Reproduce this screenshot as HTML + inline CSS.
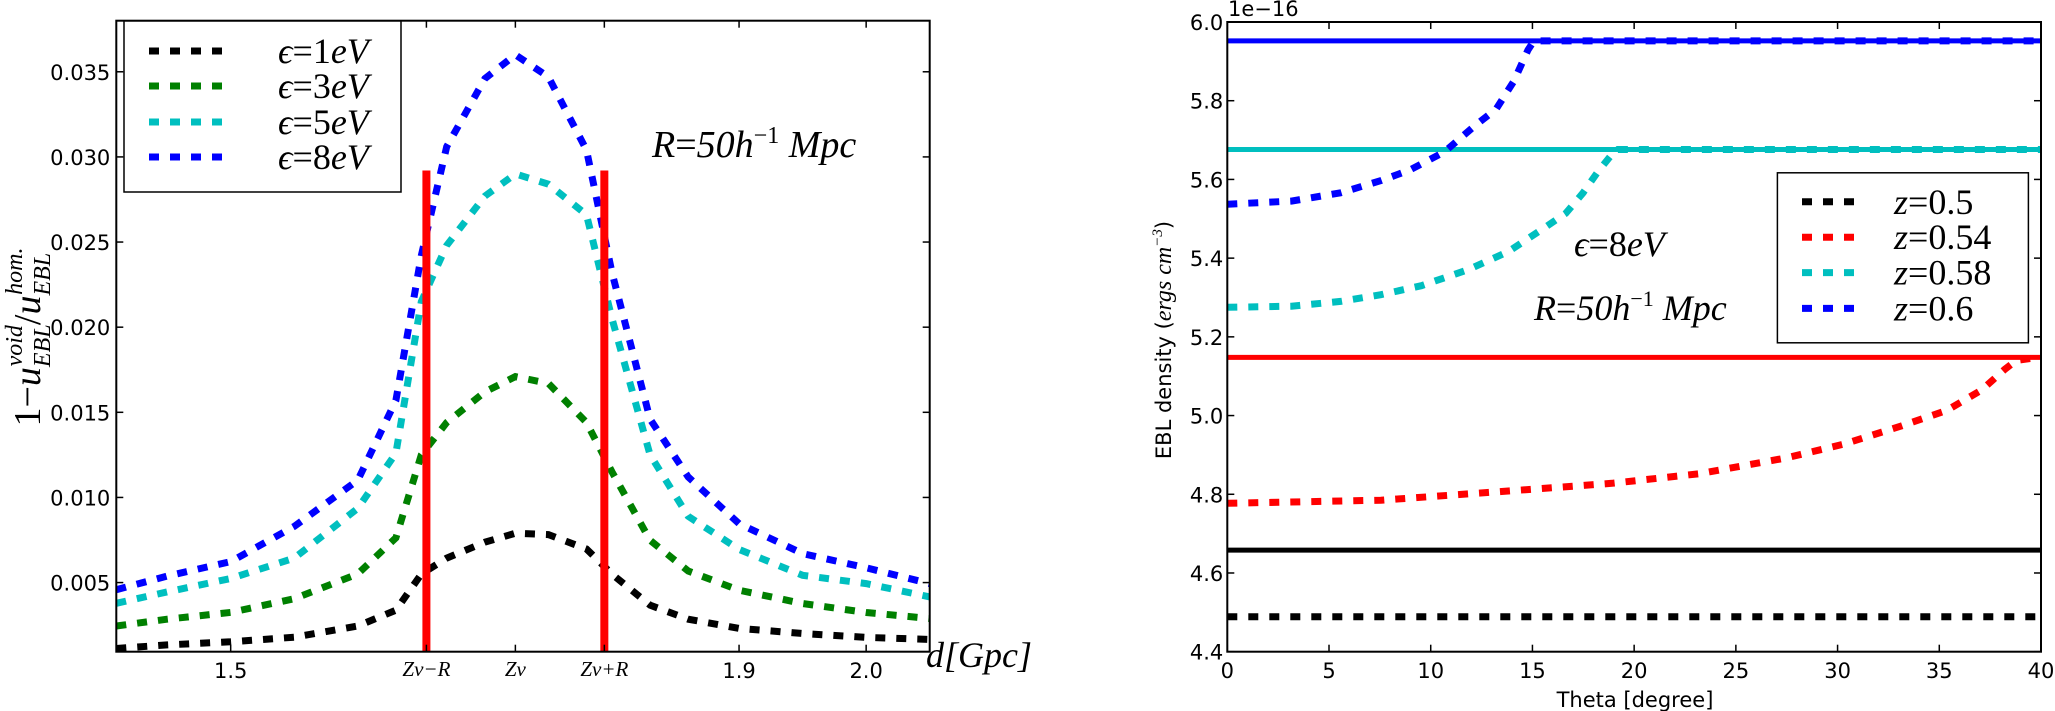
<!DOCTYPE html>
<html><head><meta charset="utf-8">
<style>
html,body{margin:0;padding:0;background:#fff;}
svg{display:block;}
.tk{font-family:"DejaVu Sans","Liberation Sans",sans-serif;font-size:21px;fill:#000;}
.mt{font-family:"Liberation Serif","DejaVu Serif",serif;font-style:italic;fill:#000;}
</style></head>
<body>
<svg id="fig" width="2055" height="711" viewBox="0 0 2055 711" xmlns="http://www.w3.org/2000/svg"></svg>
<script>
// ---------- LEFT CHART DATA ----------
const dValues = [1.41,1.45,1.5,1.55,1.6,1.63,1.65,1.67,1.7,1.724,1.75,1.78,1.8,1.83,1.86,1.9,1.95,2.0,2.05];
const eps1 = [0.00113,0.00134,0.00152,0.00179,0.00245,0.00338,0.0055,0.00644,0.00737,0.0079,0.00782,0.00697,0.0055,0.00367,0.00285,0.00231,0.00201,0.00178,0.00166];
const eps3 = [0.00245,0.00285,0.00325,0.00405,0.00551,0.00763,0.0125,0.0144,0.0162,0.0171,0.0167,0.0144,0.0115,0.00748,0.00568,0.00455,0.00377,0.00324,0.00289];
const eps5 = [0.00378,0.00445,0.00524,0.00644,0.00936,0.0126,0.0215,0.0248,0.0277,0.029,0.0284,0.0266,0.0205,0.0125,0.00889,0.00695,0.00543,0.00494,0.00416];
const eps8 = [0.00458,0.00538,0.00623,0.0083,0.01101,0.0157,0.0242,0.0306,0.0346,0.036,0.0347,0.0304,0.0232,0.0146,0.0112,0.00846,0.0067,0.00587,0.00494];
const leftSeriesLabels = ["1eV","3eV","5eV","8eV"];
const leftYTicks = [0.005,0.010,0.015,0.020,0.025,0.030,0.035];
const leftXTicks = [1.5,1.9,2.0];
const voidCenter = [1.724];
const voidRadius = [0.07];
const redTop = [0.0292];

// ---------- RIGHT CHART DATA ----------
const zLabels = ["0.5","0.54","0.58","0.6"];
const homValues = [4.658,5.148,5.676,5.952];
const thetaZ05 = [0,40];
const densZ05 = [4.489,4.489];
const thetaZ054 = [0,7.55,13.22,18.91,23.17,27.43,30.27,33.1,35.37,37.08,38.21,38.78,39.92,40];
const densZ054 = [4.777,4.785,4.806,4.828,4.852,4.892,4.927,4.973,5.013,5.065,5.117,5.14,5.148,5.148];
const thetaZ058 = [0,3.15,5.57,7.55,9.54,11.81,13.8,15.5,16.64,17.49,18.2,18.91,19.2,40];
const densZ058 = [5.275,5.278,5.29,5.307,5.33,5.37,5.416,5.474,5.514,5.566,5.618,5.664,5.676,5.676];
const thetaZ06 = [0,3.15,5.57,7.55,8.97,10.67,12.09,13.22,14.08,14.78,15.07,40];
const densZ06 = [5.537,5.545,5.566,5.597,5.624,5.67,5.733,5.779,5.849,5.929,5.952,5.952];
const rightYTicks = [4.4,4.6,4.8,5.0,5.2,5.4,5.6,5.8,6.0];
const rightXTicks = [0,5,10,15,20,25,30,35,40];

const NS="http://www.w3.org/2000/svg";
const svg=document.getElementById('fig');
function mk(tag,attrs,parent){const e=document.createElementNS(NS,tag);for(const k in attrs)e.setAttribute(k,attrs[k]);(parent||svg).appendChild(e);return e;}

// ---------- LEFT AXES ----------
const L={x0:116.3,x1:929.7,y0:20.7,y1:651.7,xmin:1.41,xmax:2.05,ymin:0.00094,ymax:0.038};
const lx=v=>L.x0+(v-L.xmin)/(L.xmax-L.xmin)*(L.x1-L.x0);
const ly=v=>L.y1-(v-L.ymin)/(L.ymax-L.ymin)*(L.y1-L.y0);
const gL=mk('g',{});


const clipL=mk('clipPath',{id:'clipL'});mk('rect',{x:L.x0,y:L.y0,width:L.x1-L.x0,height:L.y1-L.y0},clipL);
const lcols=['#000000','#008000','#00bfbf','#0000ff'];
const lser=[eps1,eps3,eps5,eps8];
const gLs=mk('g',{'clip-path':'url(#clipL)'},gL);
lser.forEach((s,i)=>{
  const p=mk('polyline',{points:dValues.map((d,j)=>lx(d).toFixed(1)+','+ly(s[j]).toFixed(1)).join(' '),fill:'none',stroke:lcols[i],'stroke-width':7,'stroke-dasharray':'10 11'},gLs);
  
  
});
[voidCenter[0]-voidRadius[0],voidCenter[0]+voidRadius[0]].forEach((d,i)=>{
  const r=mk('line',{x1:lx(d),x2:lx(d),y1:ly(redTop[0]),y2:L.y1,stroke:'#ff0000','stroke-width':8},gL);
  
  
});
const fL=mk('rect',{x:L.x0,y:L.y0,width:L.x1-L.x0,height:L.y1-L.y0,fill:'none',stroke:'#000','stroke-width':2},gL);


leftYTicks.forEach(v=>{
  const y=ly(v);
  mk('line',{x1:L.x0,x2:L.x0+7,y1:y,y2:y,stroke:'#000','stroke-width':1.5},gL);
  mk('line',{x1:L.x1,x2:L.x1-7,y1:y,y2:y,stroke:'#000','stroke-width':1.5},gL);
  const t=mk('text',{x:L.x0-6,y:y+8,'text-anchor':'end',class:'tk'},gL);t.textContent=v.toFixed(3);
  
  
});
const lxt=[...leftXTicks.map(v=>[v,v.toFixed(1),false]),[voidCenter[0]-voidRadius[0],'Zv\u2212R',true],[voidCenter[0],'Zv',true],[voidCenter[0]+voidRadius[0],'Zv+R',true]];
lxt.forEach(([v,lab,m])=>{
  const x=lx(v);
  mk('line',{x1:x,x2:x,y1:L.y1,y2:L.y1-7,stroke:'#000','stroke-width':1.5},gL);
  mk('line',{x1:x,x2:x,y1:L.y0,y2:L.y0+7,stroke:'#000','stroke-width':1.5},gL);
  const t=mk('text',{x:x,y:m?676:678,'text-anchor':'middle',class:m?'mt':'tk','font-size':m?21:21},gL);t.textContent=lab;
  
  
});
const xtl=mk('text',{x:926,y:667,class:'mt','font-size':36},gL);xtl.textContent='d[Gpc]';


const ytl=mk('text',{x:0,y:0,class:'mt','font-size':38,transform:'translate(40,337) rotate(-90)','text-anchor':'middle'},gL);
ytl.innerHTML='<tspan font-style="normal">1\u2212</tspan>u<tspan font-size="24" dy="10">EBL</tspan><tspan font-size="24" dx="-42" dy="-28">void</tspan><tspan dy="18" font-style="normal">/</tspan>u<tspan font-size="24" dy="10">EBL</tspan><tspan font-size="24" dx="-42" dy="-28">hom.</tspan>';


const ann1=mk('text',{x:652,y:157,class:'mt','font-size':38},gL);
ann1.innerHTML='R<tspan font-style="normal">=</tspan>50h<tspan font-size="24" dy="-14" font-style="normal">\u22121</tspan><tspan dy="14"> Mpc</tspan>';


// left legend
const lg=mk('g',{},gL);


mk('rect',{x:124,y:21,width:277,height:171,fill:'#fff',stroke:'#000','stroke-width':1.5},lg);
[51,86,122,157].forEach((y,i)=>{
  const e=mk('g',{},lg);
  
  
  mk('line',{x1:149,x2:227,y1:y,y2:y,stroke:lcols[i],'stroke-width':7,'stroke-dasharray':'10 11'},e);
  const t=mk('text',{x:278,y:y+12,class:'mt','font-size':36},e);
  t.innerHTML='\u03f5<tspan font-style="normal">=</tspan>'+leftSeriesLabels[i].replace(/(\d+)(eV)/,'<tspan font-style="normal">$1</tspan>$2');
});

// ---------- RIGHT AXES ----------
const R={x0:1227.3,x1:2041,y0:22,y1:651.7,xmin:0,xmax:40,ymin:4.4,ymax:6.0};
const rx=v=>R.x0+(v-R.xmin)/(R.xmax-R.xmin)*(R.x1-R.x0);
const ry=v=>R.y1-(v-R.ymin)/(R.ymax-R.ymin)*(R.y1-R.y0);
const gR=mk('g',{});


const clipR=mk('clipPath',{id:'clipR'});mk('rect',{x:R.x0,y:R.y0,width:R.x1-R.x0,height:R.y1-R.y0},clipR);
const gRs=mk('g',{'clip-path':'url(#clipR)'},gR);
const rcols=['#000000','#ff0000','#00bfbf','#0000ff'];
homValues.forEach((v,i)=>{
  const l=mk('line',{x1:R.x0,x2:R.x1,y1:ry(v),y2:ry(v),stroke:rcols[i],'stroke-width':5},gRs);
  
  
});
const rth=[thetaZ05,thetaZ054,thetaZ058,thetaZ06], rds=[densZ05,densZ054,densZ058,densZ06];
rth.forEach((th,i)=>{
  const p=mk('polyline',{points:th.map((t,j)=>rx(t).toFixed(1)+','+ry(rds[i][j]).toFixed(1)).join(' '),fill:'none',stroke:rcols[i],'stroke-width':7,'stroke-dasharray':'10 11'},gRs);
  
  
});
const fR=mk('rect',{x:R.x0,y:R.y0,width:R.x1-R.x0,height:R.y1-R.y0,fill:'none',stroke:'#000','stroke-width':2},gR);


rightYTicks.forEach(v=>{
  const y=ry(v);
  mk('line',{x1:R.x0,x2:R.x0+7,y1:y,y2:y,stroke:'#000','stroke-width':1.5},gR);
  mk('line',{x1:R.x1,x2:R.x1-7,y1:y,y2:y,stroke:'#000','stroke-width':1.5},gR);
  const t=mk('text',{x:R.x0-4,y:y+8,'text-anchor':'end',class:'tk'},gR);t.textContent=v.toFixed(1);
  
  
});
rightXTicks.forEach(v=>{
  const x=rx(v);
  mk('line',{x1:x,x2:x,y1:R.y1,y2:R.y1-7,stroke:'#000','stroke-width':1.5},gR);
  mk('line',{x1:x,x2:x,y1:R.y0,y2:R.y0+7,stroke:'#000','stroke-width':1.5},gR);
  const t=mk('text',{x:x,y:678,'text-anchor':'middle',class:'tk'},gR);t.textContent=String(v);
  
  
});
const off=mk('text',{x:1228,y:16,class:'tk','font-size':20},gR);off.textContent='1e\u221216';


const rxt=mk('text',{x:1635,y:707,'text-anchor':'middle',class:'tk','font-size':20},gR);rxt.textContent='Theta [degree]';


const ryt=mk('text',{x:0,y:0,class:'tk','font-size':21,'text-anchor':'middle',transform:'translate(1171,340) rotate(-90)'},gR);
ryt.innerHTML='EBL density (<tspan class="mt" font-size="24">ergs cm</tspan><tspan class="mt" font-size="15" dy="-9">\u22123</tspan><tspan dy="9">)</tspan>';


const a2=mk('text',{x:1574,y:256,class:'mt','font-size':36},gR);
a2.innerHTML='\u03f5<tspan font-style="normal">=8</tspan>eV';


const a3=mk('text',{x:1534,y:320,class:'mt','font-size':36},gR);
a3.innerHTML='R<tspan font-style="normal">=</tspan>50h<tspan font-size="22" dy="-14" font-style="normal">\u22121</tspan><tspan dy="14"> Mpc</tspan>';


const rg=mk('g',{},gR);


mk('rect',{x:1777.4,y:172.8,width:251,height:170,fill:'#fff',stroke:'#000','stroke-width':1.5},rg);
[201.8,237.2,272.6,308.4].forEach((y,i)=>{
  const e=mk('g',{},rg);
  
  
  mk('line',{x1:1802,x2:1856,y1:y,y2:y,stroke:rcols[i],'stroke-width':7,'stroke-dasharray':'10 11'},e);
  const t=mk('text',{x:1894,y:y+12,class:'mt','font-size':36},e);
  t.innerHTML='z<tspan font-style="normal">='+zLabels[i]+'</tspan>';
});
</script>
</body></html>
